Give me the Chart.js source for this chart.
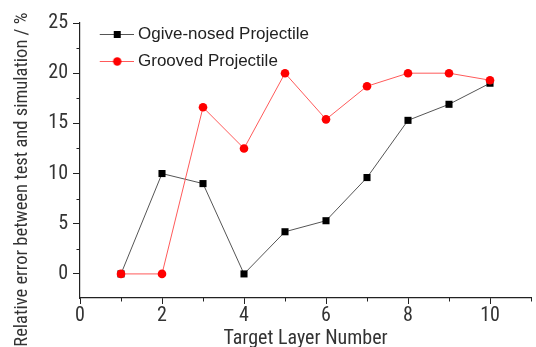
<!DOCTYPE html>
<html>
<head>
<meta charset="utf-8">
<script src="https://cdn.jsdelivr.net/npm/chart.js@4.4.1/dist/chart.umd.min.js"></script>
<style>
html,body{margin:0;padding:0;background:#fff;}
#c{display:block;}
</style>
</head>
<body>
<canvas id="c" width="536" height="347"></canvas>
<script>
// ---- data ----
const layers = [1, 2, 3, 4, 5, 6, 7, 8, 9, 10];
const ogiveNosed = [0, 10.0, 9.0, 0, 4.2, 5.3, 9.6, 15.3, 16.9, 19.0];
const grooved = [0, 0, 16.6, 12.5, 20.0, 15.4, 18.7, 20.0, 20.0, 19.3];
const seriesNames = ['Ogive-nosed Projectile', 'Grooved Projectile'];
const xTickValues = [0, 2, 4, 6, 8, 10];
const xMinorValues = [1, 3, 5, 7, 9, 11];
const yTickValues = [0, 5, 10, 15, 20, 25];
const yMinorValues = [2.5, 7.5, 12.5, 17.5, 22.5];
const xTitle = 'Target Layer Number';
const yTitle = 'Relative error between test and simulation / %';

const REG = "'Liberation Sans', Arial, sans-serif";
const COND = "Roboto, 'Liberation Sans', sans-serif";

function legendIcon(kind) {
  const c = document.createElement('canvas');
  c.width = 48; c.height = 20;
  const g = c.getContext('2d');
  g.strokeStyle = kind === 'sq' ? '#555' : '#ff5a5a';
  g.lineWidth = 1;
  g.beginPath(); g.moveTo(14, 10.5); g.lineTo(48, 10.5); g.stroke();
  if (kind === 'sq') {
    g.fillStyle = '#000';
    g.fillRect(31.5 - 3.5, 10.5 - 3.5, 7, 7);
  } else {
    g.fillStyle = '#ff0000';
    g.beginPath(); g.arc(31.5, 10.5, 4.2, 0, Math.PI * 2); g.fill();
  }
  return c;
}
const icons = [legendIcon('sq'), legendIcon('ci')];

const minorTicks = {
  id: 'minorTicks',
  afterLayout(chart) {
    if (chart.legend) {
      chart.legend.top = chart.chartArea.top - 7.5;
    }
  },
  afterDraw(chart) {
    const ctx = chart.ctx;
    const xs = chart.scales.x, ys = chart.scales.y;
    const area = chart.chartArea;
    ctx.save();
    ctx.strokeStyle = '#222';
    ctx.lineWidth = 1;
    ctx.beginPath();
    xMinorValues.forEach(v => {
      const px = Math.round(xs.getPixelForValue(v)) + 0.5;
      ctx.moveTo(px, area.bottom);
      ctx.lineTo(px, area.bottom + 3.5);
    });
    yMinorValues.forEach(v => {
      const py = Math.round(ys.getPixelForValue(v)) + 0.5;
      ctx.moveTo(area.left - 3.5, py);
      ctx.lineTo(area.left, py);
    });
    ctx.stroke();
    ctx.restore();
  }
};

new Chart(document.getElementById('c'), {
  type: 'line',
  data: {
    datasets: [
      {
        label: seriesNames[0],
        data: layers.map((x, i) => ({x: x, y: ogiveNosed[i]})),
        borderColor: '#555555',
        borderWidth: 1,
        backgroundColor: '#000000',
        pointBackgroundColor: '#000000',
        pointBorderColor: '#000000',
        pointBorderWidth: 0,
        pointStyle: 'rect',
        pointRadius: 5,
        tension: 0,
        order: 1
      },
      {
        label: seriesNames[1],
        data: layers.map((x, i) => ({x: x, y: grooved[i]})),
        borderColor: '#ff5a5a',
        borderWidth: 1,
        backgroundColor: '#ff0000',
        pointBackgroundColor: '#ff0000',
        pointBorderColor: '#ff0000',
        pointBorderWidth: 0,
        pointStyle: 'circle',
        pointRadius: 4.3,
        tension: 0,
        order: 0
      }
    ]
  },
  options: {
    responsive: false,
    animation: false,
    devicePixelRatio: 1,
    layout: { padding: { top: 23, right: 2, left: 0, bottom: 0 } },
    plugins: {
      tooltip: { enabled: false },
      legend: {
        position: 'chartArea',
        align: 'start',
        labels: {
          usePointStyle: true,
          pointStyleWidth: 39.5,
          padding: 10,
          color: '#222',
          font: { family: REG, size: 17 },
          sort: (a, b) => a.datasetIndex - b.datasetIndex,
          generateLabels(chart) {
            const items = Chart.defaults.plugins.legend.labels.generateLabels(chart);
            items.forEach((it) => { it.pointStyle = icons[it.datasetIndex]; });
            return items;
          }
        }
      }
    },
    scales: {
      x: {
        type: 'linear',
        min: 0,
        max: 11,
        afterBuildTicks(scale) { scale.ticks = xTickValues.map(v => ({value: v})); },
        afterFit(scale) { scale.height = 49; },
        grid: { display: true, drawOnChartArea: false, tickLength: 6, tickColor: '#222', tickWidth: 1 },
        border: { display: true, color: '#222', width: 1.2 },
        ticks: {
          color: '#333',
          padding: 0,
          maxRotation: 0,
          font: { family: COND, weight: 'condensed', size: 20, lineHeight: 1.2 },
          callback: (v) => String(v)
        },
        title: {
          display: true,
          text: xTitle,
          color: '#333',
          padding: { top: 0, bottom: 0 },
          font: { family: COND, weight: 'condensed', size: 20, lineHeight: 0.8 }
        }
      },
      y: {
        type: 'linear',
        min: -2.4,
        max: 25,
        afterBuildTicks(scale) { scale.ticks = yTickValues.map(v => ({value: v})); },
        afterFit(scale) { scale.width = 80; },
        grid: { display: true, drawOnChartArea: false, tickLength: 7, tickColor: '#222', tickWidth: 1 },
        border: { display: true, color: '#222', width: 1.2 },
        ticks: {
          color: '#333',
          padding: 5,
          font: { family: COND, weight: 'condensed', size: 20, lineHeight: 1.2 },
          callback: (v) => String(v)
        },
        title: {
          display: true,
          text: yTitle + '         ',
          color: '#333',
          padding: { top: 11, bottom: 0 },
          font: { family: COND, weight: 'condensed', size: 18.5, lineHeight: 1.2 }
        }
      }
    }
  },
  plugins: [minorTicks]
});
</script>
</body>
</html>
